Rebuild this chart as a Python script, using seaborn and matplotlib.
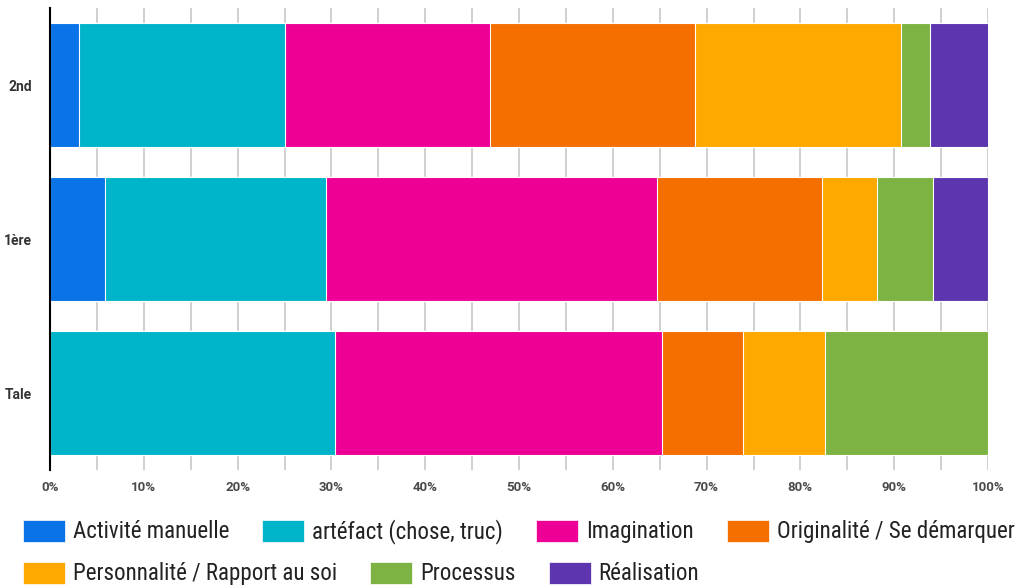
import os
import numpy as np
import pandas as pd
import seaborn as sns
import matplotlib
matplotlib.use("Agg")
import matplotlib.pyplot as plt
import matplotlib.font_manager as fm
from matplotlib.patches import Patch

# ---- data (percent of answers per grade) ----
grades = ["2nd", "1ère", "Tale"]
series = ["Activité manuelle", "artéfact (chose, truc)", "Imagination",
          "Originalité / Se démarquer", "Personnalité / Rapport au soi",
          "Processus", "Réalisation"]
activite = [3.1, 5.9, 0.0]
artefact = [21.9, 23.5, 30.4]
imagination = [21.9, 35.3, 34.8]
originalite = [21.9, 17.6, 8.7]
personnalite = [21.9, 5.9, 8.7]
processus = [3.1, 5.9, 17.4]
realisation = [6.3, 5.9, 0.0]
colors = ["#0A73E8", "#00B4C9", "#EE0096", "#F46E00", "#FFA800", "#7CB342", "#5C35AF"]
xticks_major = [0, 10, 20, 30, 40, 50, 60, 70, 80, 90, 100]
xticks_minor = [5, 15, 25, 35, 45, 55, 65, 75, 85, 95]

values = np.array([activite, artefact, imagination, originalite,
                   personnalite, processus, realisation])
cum = np.cumsum(values, axis=0)

# ---- pick a condensed sans font for the legend if one exists ----
prefs = ["robotocondensed-regular", "notosans-condensed.", "liberationsansnarrow-regular",
         "opensans-condensed", "dejavusanscondensed.", "notosans-semicondensed.",
         "liberationsans-narrow"]
files = [f.fname for f in fm.fontManager.ttflist]
leg_prop = None
for p in prefs:
    for fn in files:
        if p in os.path.basename(fn).lower():
            leg_prop = fm.FontProperties(fname=fn)
            break
    if leg_prop is not None:
        break
if leg_prop is None:
    leg_prop = fm.FontProperties(family="Roboto")

sns.set_theme(style="white")
plt.rcParams["font.family"] = ["Roboto", "DejaVu Sans"]

fig = plt.figure(figsize=(10.26, 5.88), dpi=100)
ax = fig.add_axes([50 / 1026, 1 - 470 / 588, 938 / 1026, 462 / 588])

for i in reversed(range(len(series))):
    df = pd.DataFrame({"grade": grades, "val": cum[i]})
    sns.barplot(data=df, x="val", y="grade", order=grades, orient="h",
                color=colors[i], saturation=1, width=0.8,
                edgecolor="white", linewidth=0.8, ax=ax)

ax.set_xlim(0, 100)
ax.set_ylim(2.5, -0.5)
ax.set_xticks(xticks_major)
ax.set_xticks(xticks_minor, minor=True)
ax.set_xticklabels([f"{v}%" for v in xticks_major])
ax.grid(True, axis="x", which="both", color="#cccccc", linewidth=1.3)
ax.set_axisbelow(True)
ax.set_xlabel("")
ax.set_ylabel("")
for s in ["top", "right", "bottom"]:
    ax.spines[s].set_visible(False)
ax.spines["left"].set_color("black")
ax.spines["left"].set_linewidth(1.5)
ax.tick_params(axis="x", which="both", length=0, pad=8, labelsize=9.5, labelcolor="#4a4a4a")
ax.tick_params(axis="y", length=0, pad=13, labelsize=10, labelcolor="#333333")
for t in ax.get_xticklabels() + ax.get_yticklabels():
    t.set_fontweight("semibold")

# ---- legend font size: fit "Activité manuelle" to ~155 px and row 1 to ~997 px ----
renderer = fig.canvas.get_renderer()
def text_w(s, size):
    p = leg_prop.copy()
    p.set_size(size)
    t = fig.text(0, 0, s, fontproperties=p)
    w = t.get_window_extent(renderer).width
    t.remove()
    return w

s0 = 10.0
size_a = s0 * 155 / text_w(series[0], s0)
row1_text = sum(text_w(s, s0) for s in series[:4])
# fixed px parts: 4 handles (42) + 4 pads (8) + 3 gaps (33)
size_b = s0 * (997 - 4 * 50 - 3 * 33) / row1_text
leg_size = min(size_a, size_b, 18.0)
leg_prop.set_size(leg_size)
fpx = leg_size * 100 / 72

handles = [Patch(facecolor=c, edgecolor="white", linewidth=0.5) for c in colors]
common = dict(frameon=False, loc="center left", borderpad=0, borderaxespad=0,
              handlelength=42 / fpx, handleheight=25 / fpx, handletextpad=8 / fpx,
              columnspacing=33 / fpx, prop=leg_prop)
leg1 = fig.legend(handles[:4], series[:4], ncol=4,
                  bbox_to_anchor=(23 / 1026, 1 - 531.5 / 588), **common)
leg2 = fig.legend(handles[4:], series[4:], ncol=3,
                  bbox_to_anchor=(23 / 1026, 1 - 573.5 / 588), **common)
for lg in (leg1, leg2):
    for t in lg.get_texts():
        t.set_color("#222222")

fig.savefig("out.png", dpi=100)
